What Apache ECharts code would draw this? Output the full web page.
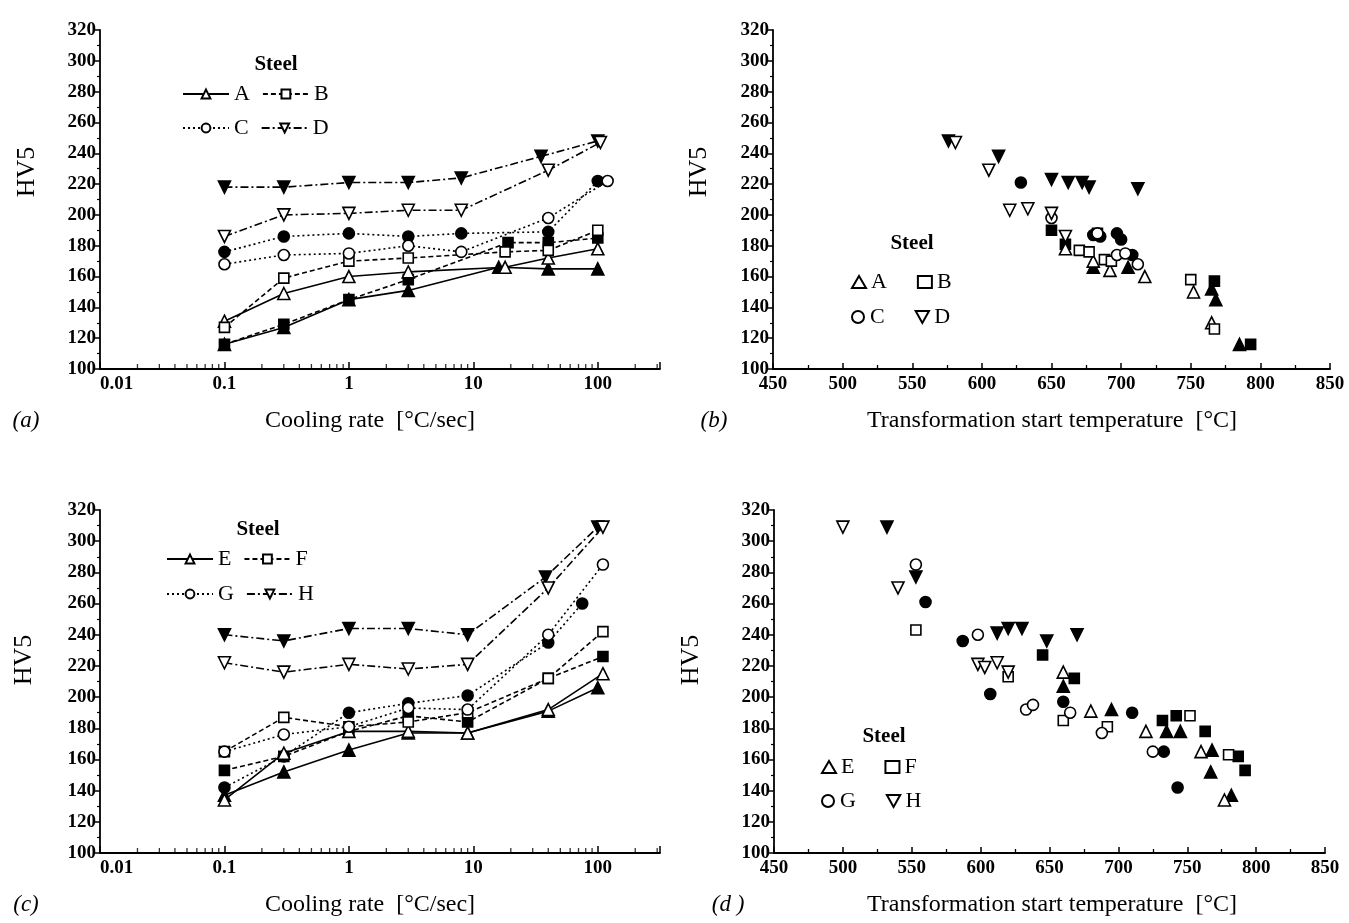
<!DOCTYPE html>
<html><head><meta charset="utf-8">
<script src="https://cdn.jsdelivr.net/npm/echarts@6/dist/echarts.min.js"></script>
<style>html,body{margin:0;background:#fff}#c{width:1349px;height:923px}</style>
</head><body><div id="c"></div><script>
// ---------- DATA ----------
// Panel (a): hardness vs cooling rate, steels A-D (open and filled symbols)
const aA_open_x = [0.1,0.3,1,3,18,40,100];   const aA_open_y = [131,149,160,163,166,172,178];
const aA_fill_x = [0.1,0.3,1,3,16,40,100];   const aA_fill_y = [116,127,145,151,166,165,165];
const aB_open_x = [0.1,0.3,1,3,18,40,100];   const aB_open_y = [127,159,170,172,176,177,190];
const aB_fill_x = [0.1,0.3,1,3,19,40,100];   const aB_fill_y = [116,129,145,158,182,182,185];
const aC_open_x = [0.1,0.3,1,3,8,40,120];    const aC_open_y = [168,174,175,180,176,198,222];
const aC_fill_x = [0.1,0.3,1,3,8,40,100];    const aC_fill_y = [176,186,188,186,188,189,222];
const aD_open_x = [0.1,0.3,1,3,8,40,105];    const aD_open_y = [186,200,201,203,203,229,247];
const aD_fill_x = [0.1,0.3,1,3,8,35,100];    const aD_fill_y = [218,218,221,221,224,238,248];
// Panel (c): steels E-H
const cE_open_x = [0.1,0.3,1,3,9,40,110];    const cE_open_y = [134,164,178,178,177,192,215];
const cE_fill_x = [0.1,0.3,1,3,9,40,100];    const cE_fill_y = [137,152,166,177,177,191,206];
const cF_open_x = [0.1,0.3,1,3,9,40,110];    const cF_open_y = [165,187,181,184,190,212,242];
const cF_fill_x = [0.1,0.3,1,3,9,40,110];    const cF_fill_y = [153,162,178,188,184,212,226];
const cG_open_x = [0.1,0.3,1,3,9,40,110];    const cG_open_y = [165,176,181,193,192,240,285];
const cG_fill_x = [0.1,0.3,1,3,9,40,75];     const cG_fill_y = [142,162,190,196,201,235,260];
const cH_open_x = [0.1,0.3,1,3,9,40,110];    const cH_open_y = [222,216,221,218,221,270,309];
const cH_fill_x = [0.1,0.3,1,3,9,38,100];    const cH_fill_y = [240,236,244,244,240,277,309];
// Panel (b): hardness vs transformation start temperature, steels A-D
const bA_open_t = [660,680,692,717,752,765];      const bA_open_h = [178,170,164,160,150,130];
const bA_fill_t = [680,705,765,768,785];          const bA_fill_h = [166,166,152,145,116];
const bB_open_t = [670,677,688,693,750,767];      const bB_open_h = [177,176,171,170,158,126];
const bB_fill_t = [650,660,683,767,793];          const bB_fill_h = [190,181,188,157,116];
const bC_open_t = [650,683,697,703,712];          const bC_open_h = [198,188,174,175,168];
const bC_fill_t = [628,680,685,697,700,708];      const bC_fill_h = [221,187,186,188,184,174];
const bD_open_t = [581,605,620,633,650,660];      const bD_open_h = [247,229,203,204,201,186];
const bD_fill_t = [576,612,650,662,672,677,712];  const bD_fill_h = [248,238,223,221,221,218,217];
// Panel (d): steels E-H
const dE_open_t = [660,680,720,760,777];          const dE_open_h = [216,191,178,165,134];
const dE_fill_t = [660,695,735,745,768,767,782];  const dE_fill_h = [207,192,178,178,166,152,137];
const dF_open_t = [553,620,660,692,752,780];      const dF_open_h = [243,213,185,181,188,163];
const dF_fill_t = [645,668,732,742,763,787,792];  const dF_fill_h = [227,212,185,188,178,162,153];
const dG_open_t = [553,598,633,638,665,688,725];  const dG_open_h = [285,240,192,195,190,177,165];
const dG_fill_t = [560,587,607,660,710,733,743];  const dG_fill_h = [261,236,202,197,190,165,142];
const dH_open_t = [500,540,598,603,612,620];      const dH_open_h = [309,270,221,219,222,216];
const dH_fill_t = [532,553,612,620,630,648,670];  const dH_fill_h = [309,277,241,244,244,236,240];
// Axis ticks
const logMajorLabels = [0.01,0.1,1,10,100];
const logMinorTicks = [0.02,0.03,0.04,0.05,0.06,0.07,0.08,0.09,0.2,0.3,0.4,0.5,0.6,0.7,0.8,0.9,
                       2,3,4,5,6,7,8,9,20,30,40,50,60,70,80,90,200,300];

// ---------- BUILD ----------
const FONT = 'Liberation Serif';
const zip = (xs, ys) => xs.map((x, i) => [x, ys[i]]);
const SYM = { tri: 'triangle', sq: 'rect', circ: 'circle', dtri: 'path://M0,0L10,0L5,9Z' };
const SIZE = { tri: 12, sq: 10, circ: 11, dtri: 12 };
const DASH = { A: 'solid', B: [5, 3], C: [2, 3], D: [8, 3, 2, 3], E: 'solid', F: [5, 3], G: [2, 3], H: [8, 3, 2, 3] };
const SHAPE = { A: 'tri', B: 'sq', C: 'circ', D: 'dtri', E: 'tri', F: 'sq', G: 'circ', H: 'dtri' };

const series = [];
function addLine(name, steel, xs, ys, filled, idx) {
  const s = SHAPE[steel];
  series.push({
    name, type: 'line', xAxisIndex: idx, yAxisIndex: idx, data: zip(xs, ys),
    symbol: SYM[s], symbolSize: SIZE[s], showAllSymbol: true,
    lineStyle: { color: '#000', width: 1.6, type: DASH[steel] },
    itemStyle: { color: filled ? '#000' : '#fff', borderColor: '#000', borderWidth: 1.6 },
    z: filled ? 3 : 4, animation: false, silent: true
  });
}
function addScatter(name, steel, xs, ys, filled, idx) {
  const s = SHAPE[steel];
  series.push({
    name, type: 'scatter', xAxisIndex: idx, yAxisIndex: idx, data: zip(xs, ys),
    symbol: SYM[s], symbolSize: SIZE[s],
    itemStyle: { color: filled ? '#000' : '#fff', borderColor: '#000', borderWidth: 1.6, opacity: 1 },
    z: filled ? 3 : 4, animation: false, silent: true
  });
}
addLine('aA', 'A', aA_open_x, aA_open_y, false, 0); addLine('aA*', 'A', aA_fill_x, aA_fill_y, true, 0);
addLine('aB', 'B', aB_open_x, aB_open_y, false, 0); addLine('aB*', 'B', aB_fill_x, aB_fill_y, true, 0);
addLine('aC', 'C', aC_open_x, aC_open_y, false, 0); addLine('aC*', 'C', aC_fill_x, aC_fill_y, true, 0);
addLine('aD', 'D', aD_open_x, aD_open_y, false, 0); addLine('aD*', 'D', aD_fill_x, aD_fill_y, true, 0);
addScatter('bA', 'A', bA_open_t, bA_open_h, false, 1); addScatter('bA*', 'A', bA_fill_t, bA_fill_h, true, 1);
addScatter('bB', 'B', bB_open_t, bB_open_h, false, 1); addScatter('bB*', 'B', bB_fill_t, bB_fill_h, true, 1);
addScatter('bC', 'C', bC_open_t, bC_open_h, false, 1); addScatter('bC*', 'C', bC_fill_t, bC_fill_h, true, 1);
addScatter('bD', 'D', bD_open_t, bD_open_h, false, 1); addScatter('bD*', 'D', bD_fill_t, bD_fill_h, true, 1);
addLine('cE', 'E', cE_open_x, cE_open_y, false, 2); addLine('cE*', 'E', cE_fill_x, cE_fill_y, true, 2);
addLine('cF', 'F', cF_open_x, cF_open_y, false, 2); addLine('cF*', 'F', cF_fill_x, cF_fill_y, true, 2);
addLine('cG', 'G', cG_open_x, cG_open_y, false, 2); addLine('cG*', 'G', cG_fill_x, cG_fill_y, true, 2);
addLine('cH', 'H', cH_open_x, cH_open_y, false, 2); addLine('cH*', 'H', cH_fill_x, cH_fill_y, true, 2);
addScatter('dE', 'E', dE_open_t, dE_open_h, false, 3); addScatter('dE*', 'E', dE_fill_t, dE_fill_h, true, 3);
addScatter('dF', 'F', dF_open_t, dF_open_h, false, 3); addScatter('dF*', 'F', dF_fill_t, dF_fill_h, true, 3);
addScatter('dG', 'G', dG_open_t, dG_open_h, false, 3); addScatter('dG*', 'G', dG_fill_t, dG_fill_h, true, 3);
addScatter('dH', 'H', dH_open_t, dH_open_h, false, 3); addScatter('dH*', 'H', dH_fill_t, dH_fill_h, true, 3);
// minor ticks of the log axes
[0, 2].forEach(idx => series.push({
  type: 'scatter', xAxisIndex: idx, yAxisIndex: idx, data: logMinorTicks.map(v => [v, 100]),
  symbol: 'rect', symbolSize: [1.3, 5], symbolOffset: [0, -2.5], clip: false,
  itemStyle: { color: '#000' }, silent: true, animation: false, z: 10
}));

const grids = [
  { left: 100, top: 30, width: 560, height: 339 },
  { left: 773, top: 30, width: 557, height: 339 },
  { left: 100, top: 510, width: 560, height: 343 },
  { left: 774, top: 510, width: 551, height: 343 }
];
const axisLine = { show: true, onZero: false, lineStyle: { color: '#000', width: 1.8 } };
const lbl = { color: '#000', fontFamily: FONT, fontSize: 19, fontWeight: 'bold', margin: 6 };
const xAxes = grids.map((g, i) => {
  if (i % 2 === 0) {
    return {
      type: 'log', gridIndex: i, logBase: 10, min: 0.01, max: 316.2,
      axisLine, splitLine: { show: false },
      axisTick: { show: true, inside: true, length: 7, lineStyle: { color: '#000', width: 1.5 } },
      axisLabel: Object.assign({}, lbl, {
        alignMinLabel: 'left',
        formatter: v => { const m = logMajorLabels.find(t => Math.abs(t - v) / t < 1e-6); return m === undefined ? '' : String(m); }
      })
    };
  }
  return {
    type: 'value', gridIndex: i, min: 450, max: 850, interval: 50,
    axisLine, splitLine: { show: false },
    axisTick: { show: true, inside: true, length: 6, lineStyle: { color: '#000', width: 1.5 } },
    minorTick: { show: true, splitNumber: 2, length: 4, lineStyle: { color: '#000', width: 1.3 } },
    axisLabel: lbl
  };
});
const yAxes = grids.map((g, i) => ({
  type: 'value', gridIndex: i, min: 100, max: 320, interval: 20,
  axisLine, splitLine: { show: false },
  axisTick: { show: true, length: 5, lineStyle: { color: '#000', width: 1.5 } },
  minorTick: { show: true, splitNumber: 2, length: 3, lineStyle: { color: '#000', width: 1.2 } },
  axisLabel: Object.assign({}, lbl, { margin: 4 })
}));

const legTxt = { color: '#000', fontFamily: FONT, fontSize: 22 };
function lineLegend(names, left, top) {
  return { left, top, orient: 'horizontal', itemGap: 12, itemWidth: 46, itemHeight: 11,
    selectedMode: false, textStyle: legTxt, data: names, formatter: n => n.slice(1), padding: 0 };
}
function symLegend(names, left, top) {
  return { left, top, orient: 'horizontal', itemGap: 30, itemWidth: 14, itemHeight: 12,
    selectedMode: false, textStyle: legTxt, data: names, formatter: n => n.slice(1), padding: 0 };
}
const legends = [
  lineLegend(['aA', 'aB'], 182, 83), lineLegend(['aC', 'aD'], 182, 117),
  lineLegend(['cE', 'cF'], 166, 548), lineLegend(['cG', 'cH'], 166, 583),
  symLegend(['bA', 'bB'], 851, 271), symLegend(['bC', 'bD'], 851, 306),
  symLegend(['dE', 'dF'], 821, 756), symLegend(['dG', 'dH'], 821, 790)
];

function T(text, x, y, size, opts) {
  opts = opts || {};
  return {
    type: 'text', x, y, rotation: opts.rotation || 0, silent: true,
    style: {
      text, fill: '#000', fontFamily: FONT, fontSize: size,
      fontWeight: opts.weight || 'normal', fontStyle: opts.style || 'normal',
      textAlign: 'center', textVerticalAlign: 'middle'
    }
  };
}
const graphics = [
  T('Steel', 276, 65, 21, { weight: 'bold' }),
  T('Steel', 258, 530, 21, { weight: 'bold' }),
  T('Steel', 912, 244, 21, { weight: 'bold' }),
  T('Steel', 884, 737, 21, { weight: 'bold' }),
  T('HV5', 27, 172, 26, { rotation: Math.PI / 2 }),
  T('HV5', 699, 172, 26, { rotation: Math.PI / 2 }),
  T('HV5', 24, 660, 26, { rotation: Math.PI / 2 }),
  T('HV5', 691, 660, 26, { rotation: Math.PI / 2 }),
  T('Cooling rate  [°C/sec]', 370, 421, 24),
  T('Transformation start temperature  [°C]', 1052, 421, 24),
  T('Cooling rate  [°C/sec]', 370, 905, 24),
  T('Transformation start temperature  [°C]', 1052, 905, 24),
  T('(a)', 26, 421, 23, { style: 'italic' }),
  T('(b)', 714, 421, 23, { style: 'italic' }),
  T('(c)', 26, 905, 23, { style: 'italic' }),
  T('(d )', 728, 905, 23, { style: 'italic' })
];

const chart = echarts.init(document.getElementById('c'), null, { renderer: 'canvas' });
chart.setOption({
  animation: false, backgroundColor: '#fff',
  textStyle: { fontFamily: FONT },
  grid: grids, xAxis: xAxes, yAxis: yAxes,
  legend: legends, series, graphic: graphics
});
</script></body></html>
